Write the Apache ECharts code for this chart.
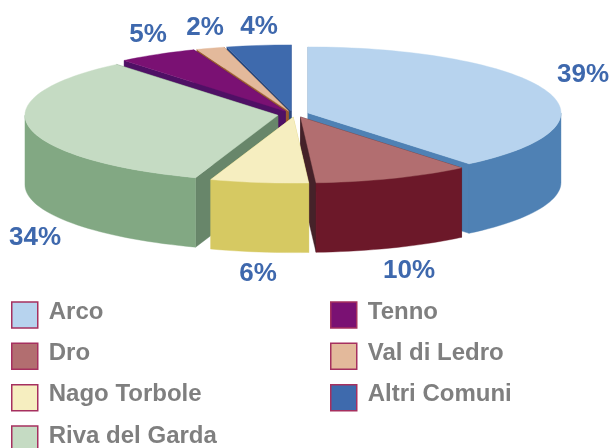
<!DOCTYPE html>
<html>
<head>
<meta charset="utf-8">
<style>
  html, body { margin: 0; padding: 0; background: #fff; overflow: hidden; }
  #chart { width: 612px; height: 448px; }
</style>
<script src="https://cdn.jsdelivr.net/npm/echarts@6/dist/echarts.min.js"></script>
</head>
<body>
<div id="chart"></div>
<script>
const categories = ['Arco', 'Dro', 'Nago Torbole', 'Riva del Garda', 'Tenno', 'Val di Ledro', 'Altri Comuni']
const values = [39.0, 10.0, 6.25, 33.7, 5.1, 1.8, 4.1]

// colours per slice: top face, outer wall, cut face
const topColors = ['#B7D3EE', '#B26E70', '#F6EEC0', '#C5DBC3', '#7A1173', '#E3B99B', '#3E6AAD']
const wallColors = ['#4F81B4', '#6C1829', '#D6C962', '#82A883', '#4F1065', '#9A5A30', '#2A4A80']
const cutColors = ['#4F81B4', '#452229', '#D6C962', '#68866A', '#4F1065', '#9A5A30', '#2A4A80']

// back to front, so nearer slices paint over the ones behind
const drawOrder = [6, 5, 4, 0, 3, 1, 2]

// pie layout in pixels
const center = [293.3, 114]
const radiusX = 253
const radiusY = 66
const depth = 69.5
const explodeX = 15.6
const explodeY = 3.15
// small per-slice corrections to the explode offset
const apexNudge = [[0, 0], [1.5, 0], [2, 0], [0, 0.7], [0, 0], [0, 0], [0, 0]]
const labelPos = [[583, 75], [409, 271], [258, 274], [35, 238], [148, 35], [205, 28], [259, 27]]

const total = values.reduce((a, b) => a + b, 0)
const toRad = (deg) => (deg * Math.PI) / 180

const slices = []
let acc = 0
values.forEach((v) => {
  const start = (acc / total) * 360
  acc += v
  slices.push({ start, end: (acc / total) * 360 })
})

const rimPoint = (apex, deg, drop) => [
  apex[0] + radiusX * Math.sin(toRad(deg)),
  apex[1] - radiusY * Math.cos(toRad(deg)) + drop
]

const arcPoints = (apex, from, to, drop) => {
  const pts = []
  const steps = Math.max(2, Math.ceil((to - from) / 2))
  for (let i = 0; i <= steps; i++) {
    pts.push(rimPoint(apex, from + ((to - from) * i) / steps, drop))
  }
  return pts
}

const poly = (points, fill) => ({
  type: 'polygon',
  shape: { points },
  style: { fill, stroke: fill, lineWidth: 0.4 }
})

const cutFace = (apex, deg, fill) => {
  const rim = rimPoint(apex, deg, 0)
  return poly([apex, rim, [rim[0], rim[1] + depth], [apex[0], apex[1] + depth]], fill)
}

const renderSlice = (index) => () => {
  const { start, end } = slices[index]
  const mid = toRad((start + end) / 2)
  const apex = [
    center[0] + explodeX * Math.sin(mid) + apexNudge[index][0],
    center[1] - explodeY * Math.cos(mid) + apexNudge[index][1]
  ]
  const children = []

  // the cut face further up the screen goes first
  const cuts = [start, end].sort((a, b) => -Math.cos(toRad(a)) + Math.cos(toRad(b)))
  cuts.forEach((deg) => children.push(cutFace(apex, deg, cutColors[index])))

  // outer wall, only the part that faces the viewer
  const wallFrom = Math.max(start, 90)
  const wallTo = Math.min(end, 270)
  if (wallTo > wallFrom) {
    const upper = arcPoints(apex, wallFrom, wallTo, 0)
    const lower = arcPoints(apex, wallFrom, wallTo, depth).reverse()
    children.push(poly(upper.concat(lower), wallColors[index]))
  }

  children.push(poly([apex].concat(arcPoints(apex, start, end, 0)), topColors[index]))

  children.push({
    type: 'text',
    style: {
      x: labelPos[index][0],
      y: labelPos[index][1],
      text: Math.round((values[index] / total) * 100) + '%',
      fill: '#3E68AD',
      font: 'bold 26px "Liberation Sans", Arial, sans-serif',
      textAlign: 'center',
      textVerticalAlign: 'middle'
    }
  })
  return { type: 'group', children }
}

const legendBase = {
  orient: 'vertical',
  top: 300,
  height: 180,
  itemWidth: 26,
  itemHeight: 26,
  itemGap: 12.6,
  selectedMode: false,
  icon: 'rect',
  itemStyle: { borderColor: '#A6305F', borderWidth: 1.5 },
  formatter: '{a|{name}}',
  textStyle: {
    rich: {
      a: {
        color: '#7F7F7F',
        fontSize: 24,
        fontWeight: 'bold',
        fontFamily: '"Liberation Sans", Arial, sans-serif',
        padding: [0, 0, 6, 6]
      }
    }
  },
  padding: 0
}

const chart = echarts.init(document.getElementById('chart'), null, { renderer: 'canvas' })
chart.setOption({
  animation: false,
  backgroundColor: '#ffffff',
  legend: [
    { ...legendBase, left: 11, data: categories.slice(0, 4) },
    { ...legendBase, left: 330, data: categories.slice(4) }
  ],
  series: drawOrder.map((index) => ({
    type: 'custom',
    name: categories[index],
    coordinateSystem: 'none',
    itemStyle: { color: topColors[index] },
    silent: true,
    data: [values[index]],
    renderItem: renderSlice(index)
  }))
})
</script>
</body>
</html>
